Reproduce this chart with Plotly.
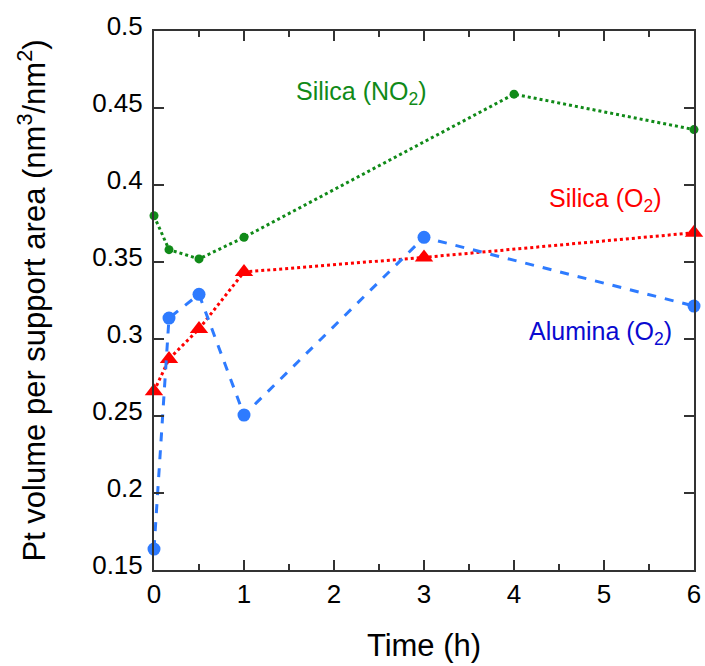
import plotly.graph_objects as go

time_h = [0, 1/6, 0.5, 1, 4, 6]
silica_no2 = [0.380, 0.358, 0.352, 0.366, 0.459, 0.436]

time_o2 = [0, 1/6, 0.5, 1, 3, 6]
silica_o2 = [0.266, 0.287, 0.3065, 0.3435, 0.353, 0.369]
alumina_o2 = [0.1636, 0.3136, 0.329, 0.2506, 0.366, 0.3214]

green = "#108a18"
red = "#ff0000"
blue = "#2e7bff"

fig = go.Figure()
fig.add_trace(go.Scatter(x=time_h, y=silica_no2, mode="lines+markers", cliponaxis=False,
                         line=dict(color=green, width=3, dash="dot"),
                         marker=dict(color=green, size=9, symbol="circle")))
fig.add_trace(go.Scatter(x=time_o2, y=silica_o2, mode="lines+markers", cliponaxis=False,
                         line=dict(color=red, width=3, dash="dot"),
                         marker=dict(color=red, size=16, symbol="triangle-up")))
fig.add_trace(go.Scatter(x=time_o2, y=alumina_o2, mode="lines+markers", cliponaxis=False,
                         line=dict(color=blue, width=3, dash="dash"),
                         marker=dict(color=blue, size=13, symbol="circle")))

font = "Liberation Sans, Arial, sans-serif"
ann = [
    (2.31, 0.4597, "Silica (NO<sub>2</sub>)", green),
    (5.02, 0.3903, "Silica (O<sub>2</sub>)", red),
    (4.96, 0.3039, "Alumina (O<sub>2</sub>)", "#0a0ad0"),
]
for x, y, t, c in ann:
    fig.add_annotation(x=x, y=y, text=t, showarrow=False, xanchor="center", yanchor="middle",
                       font=dict(family=font, size=25, color=c))

fig.update_layout(
    width=705, height=666,
    margin=dict(l=154, r=11, t=31, b=96),
    paper_bgcolor="white", plot_bgcolor="white",
    showlegend=False,
    font=dict(family=font, size=26, color="black"),
)
fig.update_xaxes(range=[0, 6], tickvals=[0, 1, 2, 3, 4, 5, 6], ticks="inside", ticklen=10, tickwidth=2,
                 tickcolor="#333", showline=True, linecolor="#333", linewidth=2, mirror="allticks",
                 showgrid=False, zeroline=False, automargin=False,
                 minor=dict(dtick=0.5, ticks="inside", ticklen=6, tickwidth=2, tickcolor="#333"),
                 tickfont=dict(size=26),
                 title=dict(text="Time (h)", font=dict(size=31), standoff=26))
fig.update_yaxes(range=[0.15, 0.5], tickvals=[0.15, 0.2, 0.25, 0.3, 0.35, 0.4, 0.45, 0.5],
                 ticktext=["0.15", "0.2", "0.25", "0.3", "0.35", "0.4", "0.45", "0.5"],
                 ticks="inside", ticklen=10, tickwidth=2, tickcolor="#333",
                 showline=True, linecolor="#333", linewidth=2, mirror="ticks",
                 showgrid=False, zeroline=False, automargin=False,
                 tickfont=dict(size=26), ticklabelstandoff=4, ticklabelshift=-5,
                 title=dict(text="Pt volume per support area (nm<sup>3</sup>/nm<sup>2</sup>)",
                            font=dict(size=31), standoff=37))

fig.write_html("out.html", config={"displayModeBar": False},
               post_script="document.body.style.margin='0px';document.body.style.overflow='hidden';")
